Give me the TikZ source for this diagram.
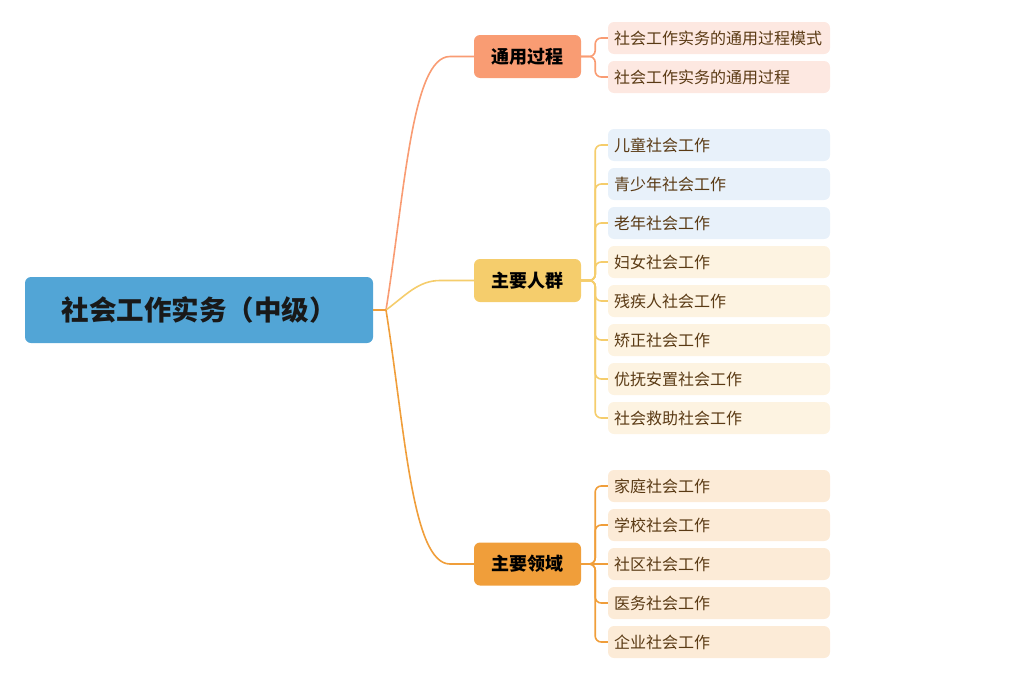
\documentclass[tikz,border=0pt]{standalone}
\usepackage{fontspec}
\setmainfont{Noto Sans CJK SC}
\definecolor{rootc}{HTML}{52A5D6}
\definecolor{b1c}{HTML}{F99C73}
\definecolor{b2c}{HTML}{F5CD6C}
\definecolor{b3c}{HTML}{F09E3A}
\definecolor{l1c}{HTML}{FDE8E1}
\definecolor{l2a}{HTML}{E8F1FA}
\definecolor{l2b}{HTML}{FDF3E1}
\definecolor{l3c}{HTML}{FCEBD7}
\definecolor{leaftext}{HTML}{5A3A14}
\tikzset{
  rootbox/.style={fill=rootc, rounded corners=6pt, minimum width=348pt, minimum height=66pt, inner sep=0pt, font=\bfseries\fontsize{27.5}{30}\selectfont, text=black!90},
  branchbox/.style={rounded corners=6pt, minimum width=107pt, minimum height=43pt, inner sep=0pt, font=\bfseries\fontsize{18}{21}\selectfont, text=black},
  leafbox/.style={rounded corners=6pt, minimum width=222pt, minimum height=32pt, inner sep=0pt, inner xsep=6pt, text width=210pt, align=left, font=\fontsize{16}{19}\selectfont, text=leaftext},
  link/.style={line width=1.6pt, rounded corners=6pt},
}
\begin{document}
\begin{tikzpicture}[x=1pt,y=-1pt]
\useasboundingbox (0,0) rectangle (1016,680);
\node[rootbox] (root) at (199,310) {社会工作实务（中级）};
\node[branchbox, fill=b1c] (b1) at (527.5,56.5) {通用过程};
\node[branchbox, fill=b2c] (b2) at (527.5,280.5) {主要人群};
\node[branchbox, fill=b3c] (b3) at (527.5,564) {主要领域};
% leaves group 1
\node[leafbox, fill=l1c] (a1) at (719,38) {社会工作实务的通用过程模式};
\node[leafbox, fill=l1c] (a2) at (719,77) {社会工作实务的通用过程};
% group 2
\node[leafbox, fill=l2a] (c1) at (719,145) {儿童社会工作};
\node[leafbox, fill=l2a] (c2) at (719,184) {青少年社会工作};
\node[leafbox, fill=l2a] (c3) at (719,223) {老年社会工作};
\node[leafbox, fill=l2b] (c4) at (719,262) {妇女社会工作};
\node[leafbox, fill=l2b] (c5) at (719,301) {残疾人社会工作};
\node[leafbox, fill=l2b] (c6) at (719,340) {矫正社会工作};
\node[leafbox, fill=l2b] (c7) at (719,379) {优抚安置社会工作};
\node[leafbox, fill=l2b] (c8) at (719,418) {社会救助社会工作};
% group 3
\node[leafbox, fill=l3c] (d1) at (719,486) {家庭社会工作};
\node[leafbox, fill=l3c] (d2) at (719,525) {学校社会工作};
\node[leafbox, fill=l3c] (d3) at (719,564) {社区社会工作};
\node[leafbox, fill=l3c] (d4) at (719,603) {医务社会工作};
\node[leafbox, fill=l3c] (d5) at (719,642) {企业社会工作};
% root connectors
\coordinate (hub) at (386,310);
\draw[b1c, line width=1.6pt] (hub) .. controls (405,190) and (412,56.5) .. (450,56.5) -- (b1.west);
\draw[b2c, line width=1.6pt] (hub) .. controls (405,296) and (418,280.5) .. (440,280.5) -- (b2.west);
\draw[b3c, line width=1.6pt] (hub) .. controls (405,430) and (412,564) .. (450,564) -- (b3.west);
\draw[b3c, line width=1.6pt] (root.east) -- (hub);
% branch to leaves
\foreach \l in {a1,a2}{\draw[link, b1c] (b1.east) -- ++(14,0) |- (\l.west);}
\foreach \l in {c1,c2,c3,c4,c5,c6,c7,c8}{\draw[link, b2c] (b2.east) -- ++(14,0) |- (\l.west);}
\foreach \l in {d1,d2,d4,d5}{\draw[link, b3c] (b3.east) -- ++(14,0) |- (\l.west);}
\draw[link, b3c] (b3.east) -- (d3.west);
\end{tikzpicture}
\end{document}
